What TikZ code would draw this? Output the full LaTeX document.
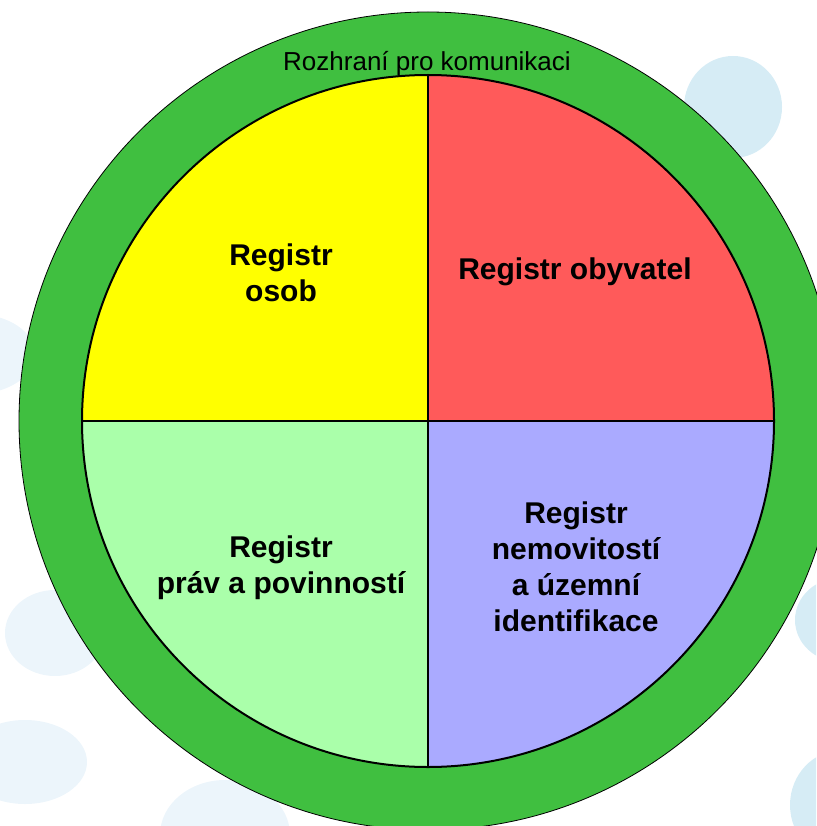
\documentclass[tikz,border=0pt]{standalone}
\usepackage{fontspec}
\setmainfont{Liberation Sans}
\usetikzlibrary{positioning}
\definecolor{ringgreen}{RGB}{64,191,64}
\definecolor{osobyyellow}{RGB}{255,255,0}
\definecolor{obyvred}{RGB}{255,90,90}
\definecolor{pravagreen}{RGB}{170,255,170}
\definecolor{nemoblue}{RGB}{170,170,255}
\definecolor{blobblue}{RGB}{214,236,245}
\definecolor{blobpale}{RGB}{236,245,251}
\tikzstyle{blob} = [fill=blobblue, draw=none]
\tikzstyle{paleblob} = [fill=blobpale, draw=none]
\tikzstyle{regtext} = [align=center, font=\fontsize{30}{36}\selectfont\bfseries]
\tikzstyle{ringtext} = [font=\fontsize{26}{30}\selectfont]
\tikzstyle{edge} = [draw=black, line width=2pt]

\begin{document}
\begin{tikzpicture}[x=1pt, y=-1pt]
\useasboundingbox (0,0) rectangle (816,826);

% background
\begin{scope}
\clip (0,0) rectangle (816,826);
\fill[blob] (733,107) ellipse (49 and 51);
\fill[paleblob] (-25,354) ellipse (60 and 40);
\fill[paleblob] (55,633) ellipse (50 and 43);
\fill[paleblob] (25,762) ellipse (62 and 42);
\fill[paleblob] (225,835) ellipse (65 and 55);
\fill[blob] (840,620) ellipse (45 and 42);
\fill[blob] (842,805) ellipse (52 and 55);
\end{scope}

\coordinate (centre) at (428,421);
\coordinate (top) at (428,75);
\coordinate (bottom) at (428,767);
\coordinate (left) at (82,421);
\coordinate (right) at (774,421);

% ring and quadrants
\draw[fill=ringgreen, line width=0.8pt] (centre) circle (409);
\begin{scope}
\clip (centre) circle (346);
\fill[osobyyellow] (centre) rectangle (0,0);
\fill[obyvred] (centre) rectangle (816,0);
\fill[pravagreen] (centre) rectangle (0,826);
\fill[nemoblue] (centre) rectangle (816,826);
\end{scope}
\draw[edge] (centre) circle (346);
\draw[edge] (top) -- (bottom);
\draw[edge] (left) -- (right);

\node[ringtext] (rozhrani) at (427,64) {Rozhraní pro komunikaci};
\node[regtext] (osoby) at (281,273) {Registr\\osob};
\node[regtext] (obyvatele) at (575,272) {Registr obyvatel};
\node[regtext] (prava) at (281,568) {Registr\\práv a povinností};
\node[regtext] (nemovitosti) at (576,567) {Registr\\nemovitostí\\a územní\\identifikace};

\end{tikzpicture}
\end{document}
